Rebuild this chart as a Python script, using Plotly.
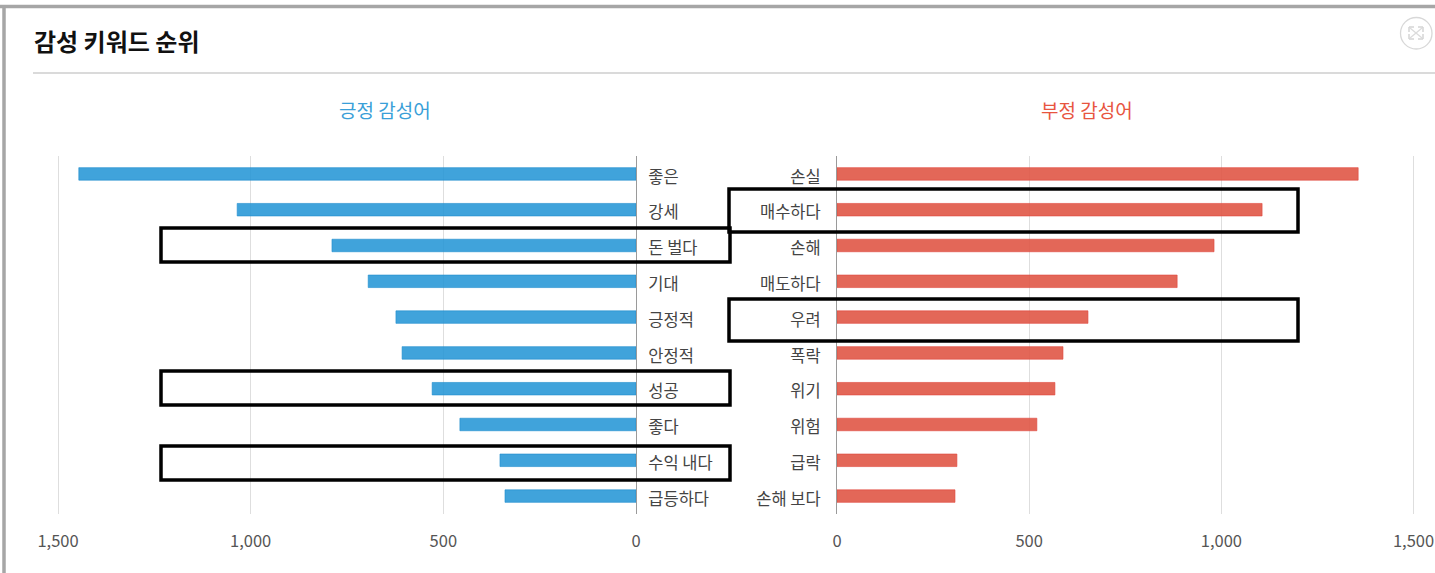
import plotly.graph_objects as go

W, H = 1435, 573
FONT = "Noto Sans CJK KR"

pos_labels = ["좋은", "강세", "돈 벌다", "기대", "긍정적", "안정적", "성공", "좋다", "수익 내다", "급등하다"]
pos_values = [1446, 1035, 789, 695, 623, 607, 529, 457, 353, 340]
neg_labels = ["손실", "매수하다", "손해", "매도하다", "우려", "폭락", "위기", "위험", "급락", "손해 보다"]
neg_values = [1356, 1106, 981, 885, 653, 588, 567, 520, 312, 307]
tick_vals = [0, 500, 1000, 1500]
tick_text = ["0", "500", "1,000", "1,500"]
title_text = "감성 키워드 순위"
pos_title = "긍정 감성어"
neg_title = "부정 감성어"


def px(x):
    return x / W


def py(y):
    return 1 - y / H


fig = go.Figure()
fig.add_trace(go.Bar(y=pos_labels, x=pos_values, orientation="h", xaxis="x", yaxis="y", width=0.35,
                     marker=dict(color="rgba(38,150,214,0.88)", line=dict(color="rgba(30,140,205,0.6)", width=1))))
fig.add_trace(go.Bar(y=neg_labels, x=neg_values, orientation="h", xaxis="x2", yaxis="y2", width=0.35,
                     marker=dict(color="rgba(224,86,70,0.9)", line=dict(color="rgba(224,70,60,0.6)", width=1))))

xcommon = dict(tickvals=tick_vals, ticktext=tick_text, showgrid=True, gridcolor="#dedede", gridwidth=1.4,
               zeroline=False, showline=False, ticks="outside", ticklen=12, tickcolor="rgba(0,0,0,0)",
               ticklabeloverflow="allow",
               tickfont=dict(family=FONT, size=16.5, color="#555555"))
ycommon = dict(type="category", range=[9.5, -0.5], ticks="outside", tickcolor="rgba(0,0,0,0)",
               showgrid=False, zeroline=False, showline=True, linecolor="#9a9a9a", linewidth=1,
               ticklabelshift=-3,
               tickfont=dict(family=FONT, size=16.5, color="#444444"))

shapes = []


def rect(x0, y0, x1, y1):
    shapes.append(dict(type="rect", xref="paper", yref="paper", x0=px(x0), x1=px(x1), y0=py(y0), y1=py(y1),
                       line=dict(color="#000000", width=3.5), fillcolor="rgba(0,0,0,0)", layer="above"))


def hline(x0, x1, y, color, width):
    shapes.append(dict(type="line", xref="paper", yref="paper", x0=px(x0), x1=px(x1), y0=py(y), y1=py(y),
                       line=dict(color=color, width=width), layer="above"))


def vline(x, y0, y1, color, width):
    shapes.append(dict(type="line", xref="paper", yref="paper", x0=px(x), x1=px(x), y0=py(y0), y1=py(y1),
                       line=dict(color=color, width=width), layer="above"))


# window frame and title rule
hline(0, W, 6.5, "#a6a6a6", 3.5)
vline(4, 5, H, "#a6a6a6", 3.5)
hline(33, W, 73, "#b5b5b5", 1.2)

# highlight boxes
for y0, y1 in [(228, 262), (371, 405), (446, 480)]:
    rect(161, y0, 730, y1)
for y0, y1 in [(189, 232), (299, 341)]:
    rect(729, y0, 1298, y1)

# expand button
shapes.append(dict(type="circle", xref="paper", yref="paper", x0=px(1400.5), x1=px(1432), y0=py(17.5), y1=py(49),
                   line=dict(color="#d8d8d8", width=1.3)))
for x0, y0, x1, y1 in [(1410, 28, 1422, 38), (1410, 38, 1422, 28)]:
    shapes.append(dict(type="line", xref="paper", yref="paper", x0=px(x0), x1=px(x1), y0=py(y0), y1=py(y1),
                       line=dict(color="#dcdcdc", width=1.3)))
for cx, cy, dx, dy in [(1409, 27, 1, 1), (1423, 27, -1, 1), (1409, 39, 1, -1), (1423, 39, -1, -1)]:
    hline(cx, cx + dx * 5, cy, "#d4d4d4", 1.5)
    vline(cx, cy, cy + dy * 5, "#d4d4d4", 1.5)

annotations = [
    dict(text="<b>" + title_text + "</b>", xref="paper", yref="paper", x=px(32), y=py(41), xanchor="left",
         yanchor="middle", showarrow=False, font=dict(family=FONT, size=24, color="#111111")),
    dict(text=pos_title, xref="paper", yref="paper", x=px(385), y=py(110), xanchor="center", yanchor="middle",
         showarrow=False, font=dict(family=FONT, size=19, color="#3a9fd8")),
    dict(text=neg_title, xref="paper", yref="paper", x=px(1087), y=py(110), xanchor="center", yanchor="middle",
         showarrow=False, font=dict(family=FONT, size=19, color="#e8553f")),
]

fig.update_layout(
    width=W, height=H, margin=dict(l=0, r=0, t=0, b=0, autoexpand=False), paper_bgcolor="#ffffff",
    plot_bgcolor="#ffffff", showlegend=False, bargap=0.6,
    xaxis=dict(domain=[px(54.15), px(636)], range=[1510, 0], anchor="y", **xcommon),
    yaxis=dict(domain=[py(514), py(156)], anchor="x", side="right", ticklen=8, **ycommon),
    xaxis2=dict(domain=[px(837), px(1417.35)], range=[0, 1510], anchor="y2", **xcommon),
    yaxis2=dict(domain=[py(514), py(156)], anchor="x2", side="left", ticklen=12, **ycommon),
    shapes=shapes, annotations=annotations,
)
fig.write_html("out.html", config=dict(displayModeBar=False),
               post_script="document.body.style.margin='0';document.body.style.overflow='hidden';")
